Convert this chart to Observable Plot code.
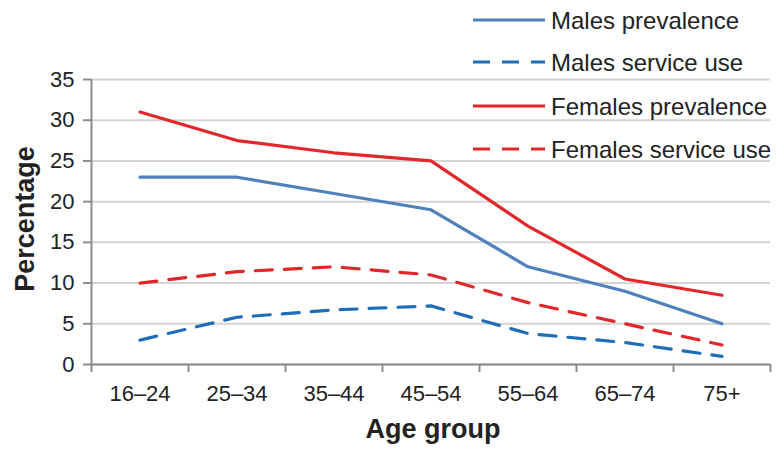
<!DOCTYPE html>
<html>
<head>
<meta charset="utf-8">
<script src="https://cdn.jsdelivr.net/npm/d3@7"></script>
<script src="https://cdn.jsdelivr.net/npm/@observablehq/plot@0.6"></script>
<style>
  html, body { margin: 0; padding: 0; background: #fff; }
  #wrap { position: relative; width: 783px; height: 454px; font-family: "Liberation Sans", Arial, sans-serif; }
  #legend { position: absolute; left: 0; top: 0; width: 783px; height: 170px; pointer-events: none; }
</style>
</head>
<body>
<div id="wrap"></div>
<script>
const ageGroups = ["16\u201324", "25\u201334", "35\u201344", "45\u201354", "55\u201364", "65\u201374", "75+"];
const malesPrevalence   = [23, 23, 21, 19, 12, 9, 5];
const malesServiceUse   = [3, 5.8, 6.7, 7.2, 3.8, 2.7, 1.0];
const femalesPrevalence = [31, 27.5, 26, 25, 17, 10.5, 8.5];
const femalesServiceUse = [10, 11.4, 12, 11, 7.6, 5, 2.4];
const seriesNames = ["Males prevalence", "Males service use", "Females prevalence", "Females service use"];
const yTicks = [0, 5, 10, 15, 20, 25, 30, 35];

const seriesValues = [malesPrevalence, malesServiceUse, femalesPrevalence, femalesServiceUse];
const seriesStyle = {
  "Males prevalence":    {stroke: "#4f81bd", dash: null},
  "Males service use":   {stroke: "#1f6db8", dash: "17,12"},
  "Females prevalence":  {stroke: "#e2272b", dash: null},
  "Females service use": {stroke: "#e2272b", dash: "17,12"}
};

const rows = [];
seriesNames.forEach((s, si) => {
  seriesValues[si].forEach((v, i) => rows.push({series: s, i: i + 0.5, age: ageGroups[i], value: v}));
});

const boundaries = d3.range(ageGroups.length + 1);
const centers = ageGroups.map((_, i) => i + 0.5);

const fontFam = "Liberation Sans, Arial, sans-serif";

const marks = [
  Plot.gridY(yTicks, {stroke: "#d4d4d4", strokeOpacity: 1, strokeWidth: 2}),
  Plot.axisY(yTicks, {tickSize: 8, stroke: "#8c8c8c", strokeWidth: 2, tickPadding: 9, fill: "#222", label: null, tickFormat: d => String(d)}),
  Plot.ruleX([0], {stroke: "#8c8c8c", strokeWidth: 2}),
  Plot.axisX(boundaries, {tickSize: 8, stroke: "#8c8c8c", strokeWidth: 2, tickFormat: () => "", label: null}),
  Plot.axisX(centers, {tickSize: 0, tickPadding: 21, fill: "#222", tickFormat: d => ageGroups[Math.floor(d)], label: null}),
  Plot.ruleY([0], {stroke: "#8c8c8c", strokeWidth: 2}),
  ...seriesNames.map(s => Plot.line(rows.filter(r => r.series === s), {
    x: "i", y: "value",
    stroke: seriesStyle[s].stroke,
    strokeWidth: 3.2,
    strokeDasharray: seriesStyle[s].dash,
    strokeLinejoin: "round"
  }))
];

const chart = Plot.plot({
  width: 783,
  height: 454,
  marginLeft: 91,
  marginRight: 13,
  marginTop: 79,
  marginBottom: 90,
  style: {fontFamily: fontFam, fontSize: "22px", background: "#fff", overflow: "visible"},
  x: {domain: [0, ageGroups.length], axis: null},
  y: {domain: [0, 35], axis: null},
  marks
});

const wrap = document.getElementById("wrap");
wrap.appendChild(chart);

// force tick label size
d3.select(chart).selectAll("text").attr("font-size", 22).style("font-size", "22px").attr("font-family", fontFam);

const svgNS = "http://www.w3.org/2000/svg";
function addText(txt, x, y, rot) {
  const t = document.createElementNS(svgNS, "text");
  t.textContent = txt;
  t.setAttribute("x", x); t.setAttribute("y", y);
  t.setAttribute("text-anchor", "middle");
  t.setAttribute("dominant-baseline", "central");
  t.setAttribute("font-family", fontFam);
  t.setAttribute("font-weight", "bold");
  t.style.fontSize = "27px";
  t.setAttribute("fill", "#222");
  if (rot) t.setAttribute("transform", `rotate(-90 ${x} ${y})`);
  chart.appendChild(t);
}
addText("Percentage", 25, 219, true);
addText("Age group", 433, 429, false);

const leg = document.createElementNS(svgNS, "svg");
leg.setAttribute("id", "legend");
leg.setAttribute("width", 783); leg.setAttribute("height", 170);
const rowY = [20, 62, 106, 149];
seriesNames.forEach((s, k) => {
  const ln = document.createElementNS(svgNS, "line");
  ln.setAttribute("x1", 473); ln.setAttribute("x2", 545);
  ln.setAttribute("y1", rowY[k]); ln.setAttribute("y2", rowY[k]);
  ln.setAttribute("stroke", seriesStyle[s].stroke);
  ln.setAttribute("stroke-width", 3.2);
  if (seriesStyle[s].dash) ln.setAttribute("stroke-dasharray", seriesStyle[s].dash);
  leg.appendChild(ln);
  const t = document.createElementNS(svgNS, "text");
  t.textContent = s;
  t.setAttribute("x", 551); t.setAttribute("y", rowY[k]);
  t.setAttribute("dominant-baseline", "central");
  t.setAttribute("font-family", fontFam);
  t.style.fontSize = "24px";
  t.setAttribute("fill", "#222");
  leg.appendChild(t);
});
wrap.appendChild(leg);
</script>
</body>
</html>
